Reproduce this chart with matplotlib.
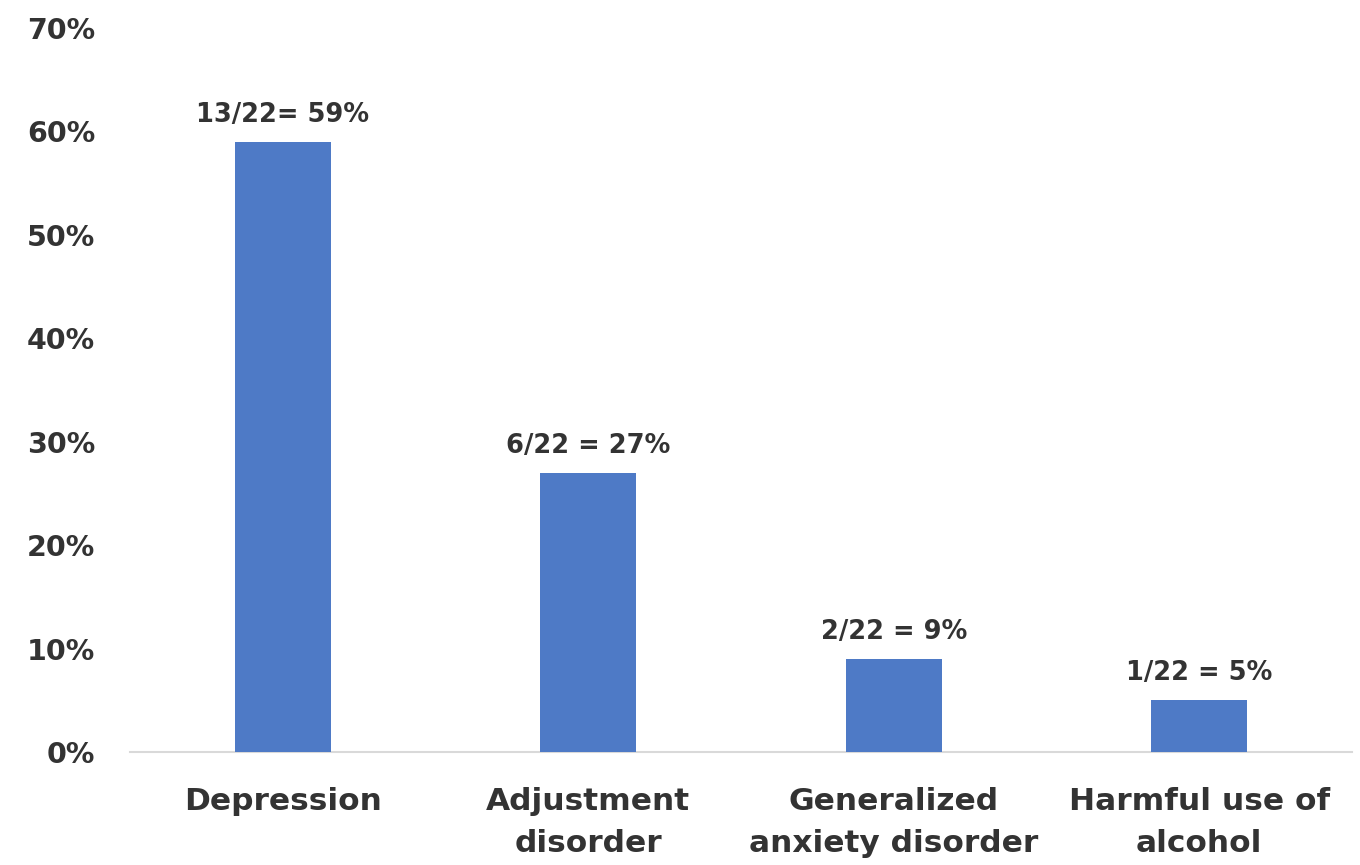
import numpy as np
import matplotlib
matplotlib.use("Agg")
import matplotlib.pyplot as plt
from matplotlib.ticker import PercentFormatter

# ---------------------------------------------------------------------------
# Data
# ---------------------------------------------------------------------------
categories = ["Depression", "Adjustment\ndisorder",
              "Generalized\nanxiety disorder", "Harmful use of\nalcohol"]
shares = [0.59, 0.27, 0.09, 0.05]   # bar heights as drawn (rounded)
bar_labels = ["13/22= 59%", "6/22 = 27%", "2/22 = 9%", "1/22 = 5%"]
y_ticks = [0, 0.1, 0.2, 0.3, 0.4, 0.5, 0.6, 0.7]

BAR_COLOR = "#4E7AC6"
TEXT_COLOR = "#333333"
AXIS_COLOR = "#D9D9D9"

plt.rcParams["font.family"] = ["DejaVu Sans"]
plt.rcParams["font.weight"] = "bold"

fig = plt.figure(figsize=(13.6, 8.65), dpi=100)
ax = fig.add_axes([130 / 1360, 113 / 865, 1222 / 1360, 724 / 865])

x = np.arange(len(categories))
bars = ax.bar(x, shares, width=0.315, color=BAR_COLOR, zorder=3)

# value labels above bars
for rect, lbl in zip(bars, bar_labels):
    ax.annotate(lbl, xy=(rect.get_x() + rect.get_width() / 2, rect.get_height()),
                xytext=(0, 10), textcoords="offset points",
                ha="center", va="bottom", fontsize=18.5, fontweight="bold",
                color=TEXT_COLOR)

ax.set_xlim(-0.5, len(categories) - 0.5)
ax.set_ylim(0, 0.7)
ax.set_yticks(y_ticks)
ax.yaxis.set_major_formatter(PercentFormatter(1.0, decimals=0))
ax.set_xticks(x)
ax.set_xticklabels(categories, fontsize=22.5, fontweight="bold",
                   color=TEXT_COLOR, linespacing=1.58)
for t in ax.get_yticklabels():
    t.set_fontsize(20.5)
    t.set_fontweight("bold")
    t.set_color(TEXT_COLOR)

ax.tick_params(axis="x", length=0, pad=25)
ax.tick_params(axis="y", length=0, pad=25)

for side in ["top", "right", "left"]:
    ax.spines[side].set_visible(False)
ax.spines["bottom"].set_color(AXIS_COLOR)
ax.spines["bottom"].set_linewidth(1.5)

fig.savefig("out.png", dpi=100)
